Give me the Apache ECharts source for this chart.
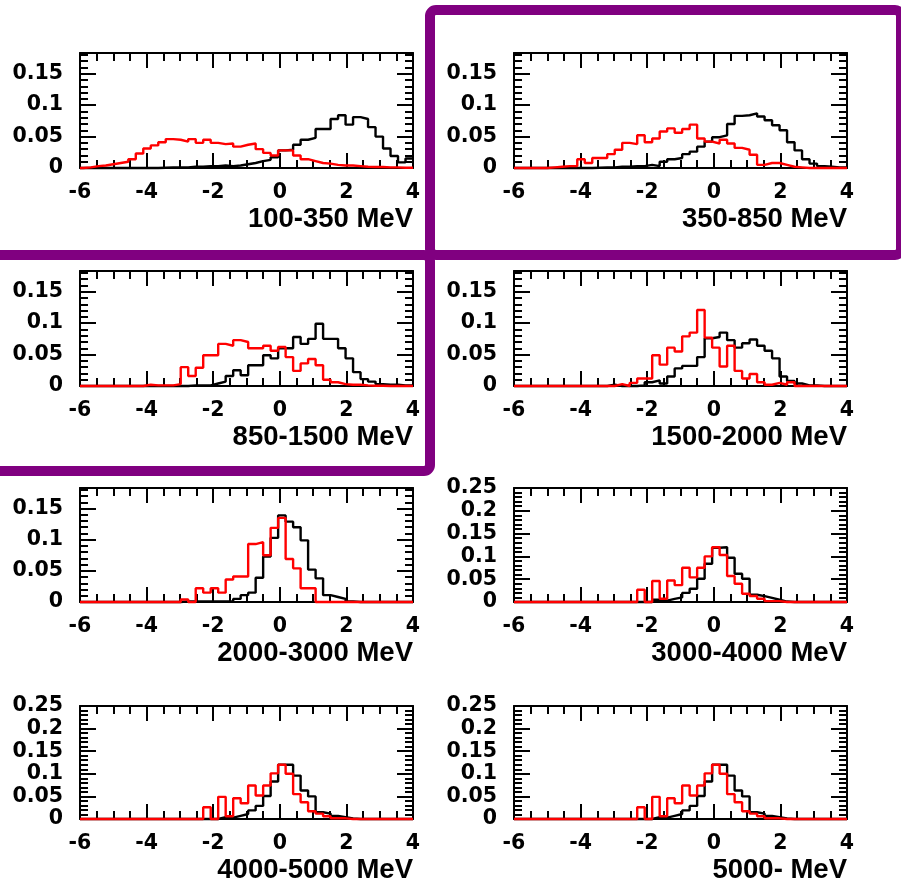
<!DOCTYPE html>
<html>
<head>
<meta charset="utf-8">
<script src="https://cdn.jsdelivr.net/npm/echarts@6/dist/echarts.min.js"></script>
<style>
  html, body { margin: 0; padding: 0; background: #ffffff; }
  #chart { width: 901px; height: 883px; }
</style>
</head>
<body>
<div id="chart"></div>
<script>
// Histogram binning: 44 bins of width 0.225 starting at -5.9 (x axis runs -6 .. 4)
const BIN_LOW = -5.9;
const BIN_WIDTH = 0.225;
const X_MIN = -6;
const X_MAX = 4;

// Energy ranges, one panel each
const energyLabels = [
  '100-350 MeV', '350-850 MeV',
  '850-1500 MeV', '1500-2000 MeV',
  '2000-3000 MeV', '3000-4000 MeV',
  '4000-5000 MeV', '5000- MeV'
];

// Upper end of the y scale per panel
const yMaxima = [0.183, 0.183, 0.183, 0.183, 0.183, 0.25, 0.25, 0.25];

// Bin contents (black histograms)
const black_100_350 = [0,0,0,0,0,0,0,0,0,0, 0.0005,0.001,0.001,0.001,0.002,0.002,0.003,0.003,0.004,0.003,
  0.004,0.006,0.008,0.011,0.013,0.017,0.028,0.029,0.037,0.045,0.048,0.062,0.062,0.078,0.084,0.069,
  0.081,0.078,0.065,0.050,0.031,0.019,0.009,0.015];
const black_350_850 = [0,0,0,0,0,0,0,0,0,0, 0.0005,0.001,0.001,0.002,0.002,0.003,0.003,0.005,0.003,0.010,
  0.014,0.016,0.022,0.026,0.034,0.042,0.049,0.052,0.070,0.083,0.084,0.087,0.082,0.076,0.068,0.060,
  0.041,0.028,0.014,0.007,0.003,0.002,0.001,0.001];
const black_850_1500 = [0,0,0,0,0,0,0,0,0,0,0,0,0,0, 0.001,0.001,0.001,0.004,0.007,0.016,0.025,0.017,
  0.033,0.033,0.049,0.044,0.060,0.060,0.078,0.067,0.075,0.099,0.075,0.075,0.060,0.044,0.022,0.011,
  0.007,0.003,0.002,0.002,0.001,0.001];
const black_1500_2000 = [0,0,0,0,0,0,0,0,0,0,0,0, 0.002,0,0,0,0.001,0.006,0.009,0.004,0.015,0.028,
  0.032,0.032,0.046,0.076,0.078,0.085,0.073,0.061,0.068,0.074,0.064,0.056,0.044,0.015,0.008,0.004,
  0.001,0.001,0,0,0,0];
const black_2000_3000 = [0,0,0,0,0,0,0,0,0,0,0,0,0, 0.001,0.001,0.001,0.001,0.001,0.001,0.001,0.005,
  0.011,0.015,0.039,0.073,0.103,0.139,0.129,0.120,0.099,0.052,0.038,0.011,0.008,0.005,0.001,
  0,0,0,0,0,0,0,0];
const black_3000_4000 = [0,0,0,0,0,0,0,0,0,0,0,0,0,0,0,0,0,0, 0.005,0.003,0.007,0.010,0.020,0.029,
  0.051,0.084,0.119,0.120,0.097,0.062,0.051,0.016,0.013,0.009,0.005,0.001,0,0,0,0,0,0,0,0];
const black_4000_5000 = [0,0,0,0,0,0,0,0,0,0,0,0,0,0,0,0,0,0, 0.004,0.003,0.007,0.011,0.019,0.029,
  0.051,0.083,0.120,0.120,0.096,0.063,0.050,0.015,0.012,0.007,0.004,0.001,0,0,0,0,0,0,0,0];
const black_5000_up = [0,0,0,0,0,0,0,0,0,0,0,0,0,0,0,0,0,0, 0.004,0.003,0.007,0.011,0.019,0.029,
  0.051,0.083,0.120,0.120,0.096,0.063,0.050,0.015,0.012,0.007,0.004,0.001,0,0,0,0,0,0,0,0];

// Bin contents (red histograms)
const red_100_350 = [0.001,0.003,0.004,0.006,0.008,0.010,0.014,0.023,0.031,0.036,0.041,0.046,0.045,
  0.042,0.046,0.040,0.045,0.040,0.038,0.039,0.034,0.037,0.039,0.030,0.024,0.020,0.028,0.028,0.020,
  0.014,0.011,0.008,0.007,0.005,0.004,0.004,0.003,0.002,0.0015,0.0015,0.001,0.001,0.0005,0.0005];
const red_350_850 = [0,0,0,0,0.001,0.002,0.003,0.003,0.014,0.008,0.016,0.016,0.022,0.029,0.040,0.038,
  0.052,0.041,0.047,0.058,0.063,0.056,0.062,0.069,0.047,0.042,0.039,0.045,0.039,0.032,0.029,0.021,
  0.005,0.008,0.008,0.005,0.002,0.001,0,0,0,0,0,0];
const red_850_1500 = [0,0,0,0,0,0,0,0, 0.002,0.001,0.001,0.001,0.003,0.030,0.016,0.029,0.049,0.049,
  0.067,0.064,0.073,0.070,0.060,0.060,0.064,0.056,0.062,0.046,0.024,0.036,0.043,0.033,0.010,0.006,
  0.003,0.002,0.002,0.001,0.0005,0.0005,0,0,0,0];
const red_1500_2000 = [0,0,0,0,0,0,0,0,0,0,0,0,0, 0.003,0,0.005,0.012,0.012,0.049,0.034,0.061,0.055,
  0.079,0.085,0.121,0.077,0.061,0.031,0.064,0.024,0.012,0.019,0.006,0.002,0.005,0.002,0.006,
  0,0,0,0,0,0,0];
const red_2000_3000 = [0,0,0,0,0,0,0,0,0,0,0,0,0, 0.004,0,0.022,0.015,0.022,0.015,0.036,0.041,0.041,
  0.093,0.096,0.075,0.119,0.135,0.069,0.054,0.022,0.022,0,0,0,0,0,0,0,0,0,0,0,0,0];
const red_3000_4000 = [0,0,0,0,0,0,0,0,0,0,0,0,0,0,0,0, 0.027,0,0.046,0.007,0.047,0.037,0.075,0.054,
  0.075,0.100,0.120,0.103,0.057,0.040,0.018,0.013,0.007,0.002,0.002,0,0,0,0,0,0,0,0,0];
const red_4000_5000 = [0,0,0,0,0,0,0,0,0,0,0,0,0,0,0,0, 0.026,0,0.049,0.006,0.046,0.035,0.074,0.052,
  0.074,0.101,0.120,0.100,0.055,0.037,0.017,0.012,0.006,0.0015,0.0015,0,0,0,0,0,0,0,0,0];
const red_5000_up = [0,0,0,0,0,0,0,0,0,0,0,0,0,0,0,0, 0.026,0,0.049,0.006,0.046,0.035,0.074,0.052,
  0.074,0.101,0.120,0.100,0.055,0.037,0.017,0.012,0.006,0.0015,0.0015,0,0,0,0,0,0,0,0,0];

const blackSets = [black_100_350, black_350_850, black_850_1500, black_1500_2000,
  black_2000_3000, black_3000_4000, black_4000_5000, black_5000_up];
const redSets = [red_100_350, red_350_850, red_850_1500, red_1500_2000,
  red_2000_3000, red_3000_4000, red_4000_5000, red_5000_up];

// Page layout of the 2 x 4 panel matrix
const COL_LEFT = [80, 514];
const PLOT_W = 333;
const ROW_TOP = [53, 271, 488, 706];
const ROW_H = [115, 115, 114, 113];
const PAGE_W = 901;

const TICK_FONT = { fontFamily: 'DejaVu Sans', fontWeight: 'bold', fontSize: 20.5, color: '#000' };
const HIST_WIDTH = 2.4;

// Turn bin contents into step-line vertices at the bin low edges
function histPoints(values) {
  const pts = [[X_MIN, 0]];
  values.forEach((v, k) => pts.push([+(BIN_LOW + k * BIN_WIDTH).toFixed(4), v]));
  pts.push([+(BIN_LOW + values.length * BIN_WIDTH).toFixed(4), values[values.length - 1]]);
  return pts;
}

function makeXAxis(gridIndex, position, interval, tickLen, withLine, withLabels) {
  return {
    type: 'value', gridIndex, position, min: X_MIN, max: X_MAX, interval,
    axisLine: { show: withLine, onZero: false, lineStyle: { color: '#000', width: 2 } },
    axisTick: { show: true, inside: true, length: tickLen, lineStyle: { color: '#000', width: 2 } },
    axisLabel: Object.assign({ show: withLabels, margin: 14, showMinLabel: true, showMaxLabel: true }, TICK_FONT),
    splitLine: { show: false }
  };
}

function makeYAxis(gridIndex, position, yMax, interval, tickLen, withLine, withLabels) {
  return {
    type: 'value', gridIndex, position, min: 0, max: yMax, interval,
    axisLine: { show: withLine, onZero: false, lineStyle: { color: '#000', width: 2 } },
    axisTick: { show: true, inside: true, length: tickLen, lineStyle: { color: '#000', width: 2 } },
    axisLabel: Object.assign({
      show: withLabels, margin: 17, showMinLabel: true,
      showMaxLabel: Math.abs(yMax / interval - Math.round(yMax / interval)) < 1e-6
    }, TICK_FONT),
    splitLine: { show: false }
  };
}

const grids = [], xAxes = [], yAxes = [], series = [], titles = [];

energyLabels.forEach((label, i) => {
  const col = i % 2, row = Math.floor(i / 2);
  const rect = {
    left: COL_LEFT[col], top: ROW_TOP[row], width: PLOT_W, height: ROW_H[row],
    containLabel: false, outerBoundsMode: 'none'
  };
  const yMax = yMaxima[i];

  // frame, major ticks and labels
  const gMajor = grids.length;
  grids.push(Object.assign({}, rect));
  const xMain = xAxes.length;
  xAxes.push(makeXAxis(gMajor, 'bottom', 2, 15, true, true));
  xAxes.push(makeXAxis(gMajor, 'top', 2, 15, true, false));
  const yMain = yAxes.length;
  yAxes.push(makeYAxis(gMajor, 'left', yMax, 0.05, 16, true, true));
  yAxes.push(makeYAxis(gMajor, 'right', yMax, 0.05, 16, true, false));

  // minor ticks on an overlaid grid
  const gMinor = grids.length;
  grids.push(Object.assign({}, rect));
  xAxes.push(makeXAxis(gMinor, 'bottom', 0.5, 8, false, false));
  xAxes.push(makeXAxis(gMinor, 'top', 0.5, 8, false, false));
  yAxes.push(makeYAxis(gMinor, 'left', yMax, 0.01, 8, false, false));
  yAxes.push(makeYAxis(gMinor, 'right', yMax, 0.01, 8, false, false));

  const common = {
    type: 'line', xAxisIndex: xMain, yAxisIndex: yMain, step: 'end',
    showSymbol: false, symbol: 'none', clip: false, silent: true, animation: false
  };
  series.push(Object.assign({}, common, {
    name: label + ' black', data: histPoints(blackSets[i]),
    lineStyle: { color: '#000000', width: HIST_WIDTH }, itemStyle: { color: '#000000' }, z: 3
  }));
  series.push(Object.assign({}, common, {
    name: label + ' red', data: histPoints(redSets[i]),
    lineStyle: { color: '#ff0000', width: HIST_WIDTH }, itemStyle: { color: '#ff0000' }, z: 4
  }));

  titles.push({
    text: label,
    right: PAGE_W - (COL_LEFT[col] + PLOT_W),
    top: ROW_TOP[row] + ROW_H[row] + 37,
    padding: 0,
    textStyle: { fontFamily: 'Liberation Sans', fontWeight: 'bold', fontSize: 27.5, color: '#000' }
  });
});

const PURPLE = '#800080';

const chart = echarts.init(document.getElementById('chart'), null, { renderer: 'canvas' });
chart.setOption({
  animation: false,
  backgroundColor: '#ffffff',
  title: titles,
  grid: grids,
  xAxis: xAxes,
  yAxis: yAxes,
  series: series,
  graphic: [
    { type: 'rect', z: 100, silent: true,
      shape: { x: 430, y: 10, width: 471, height: 245, r: 6 },
      style: { fill: 'none', stroke: PURPLE, lineWidth: 10 } },
    { type: 'rect', z: 100, silent: true,
      shape: { x: -20, y: 255, width: 450, height: 216, r: 6 },
      style: { fill: 'none', stroke: PURPLE, lineWidth: 10 } }
  ]
});
</script>
</body>
</html>
